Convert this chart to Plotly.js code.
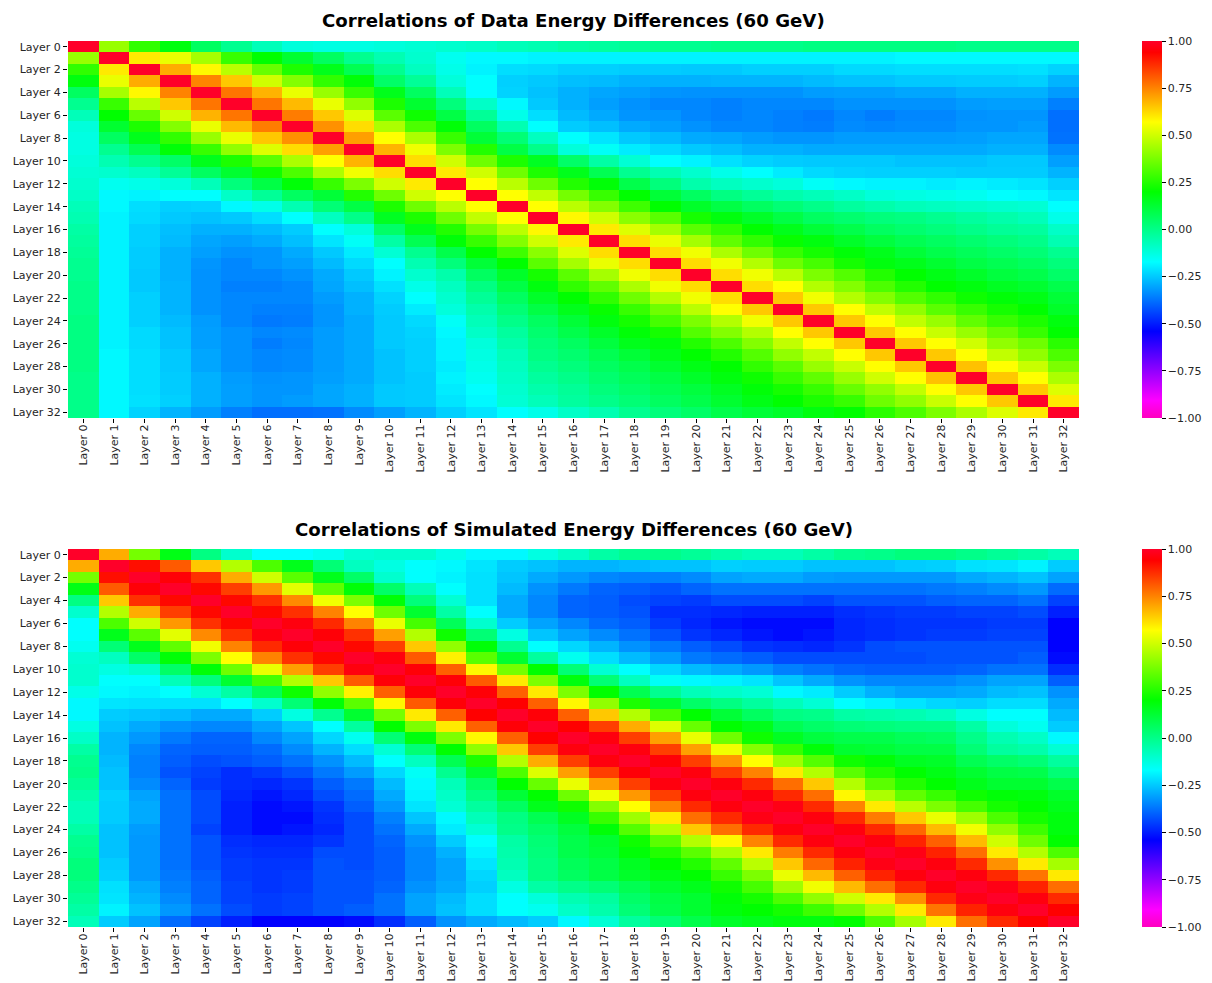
<!DOCTYPE html>
<html>
<head>
<meta charset="utf-8">
<script src="https://cdn.plot.ly/plotly-3.0.1.min.js"></script>
<style>html,body{margin:0;padding:0;background:#fff}#chart{width:1212px;height:983px}</style>
</head>
<body>
<div id="chart"></div>
<script>
const layers = ["Layer 0","Layer 1","Layer 2","Layer 3","Layer 4","Layer 5","Layer 6","Layer 7","Layer 8","Layer 9","Layer 10","Layer 11","Layer 12","Layer 13","Layer 14","Layer 15","Layer 16","Layer 17","Layer 18","Layer 19","Layer 20","Layer 21","Layer 22","Layer 23","Layer 24","Layer 25","Layer 26","Layer 27","Layer 28","Layer 29","Layer 30","Layer 31","Layer 32"];
const yTickLayers = ["Layer 0","Layer 2","Layer 4","Layer 6","Layer 8","Layer 10","Layer 12","Layer 14","Layer 16","Layer 18","Layer 20","Layer 22","Layer 24","Layer 26","Layer 28","Layer 30","Layer 32"];
const colorbarTicks = [-1,-0.75,-0.5,-0.25,0,0.25,0.5,0.75,1];
const titleData = "Correlations of Data Energy Differences (60 GeV)";
const titleSim = "Correlations of Simulated Energy Differences (60 GeV)";

// Upper triangles of the two symmetric correlation matrices: row r lists columns r..32.
const dataUpper = [
[1,.42,.27,.18,.06,-.01,-.07,-.12,-.13,-.13,-.12,-.11,-.1,-.09,-.07,-.06,-.04,-.03,-.02,-.01,-.01,0,0,0,.01,.01,.01,.01,.01,0,0,0,0],
[1,.6,.54,.44,.28,.2,.13,.06,-.01,-.06,-.1,-.15,-.18,-.18,-.19,-.19,-.19,-.19,-.19,-.19,-.19,-.19,-.19,-.19,-.19,-.19,-.18,-.18,-.18,-.18,-.18,-.18],
[1,.69,.58,.47,.35,.24,.16,.08,-.01,-.08,-.14,-.19,-.22,-.225,-.24,-.24,-.245,-.245,-.25,-.25,-.24,-.24,-.24,-.225,-.225,-.22,-.22,-.22,-.22,-.215,-.235],
[1,.75,.65,.5,.39,.27,.19,.05,-.02,-.12,-.17,-.24,-.25,-.265,-.27,-.285,-.285,-.285,-.28,-.28,-.28,-.27,-.26,-.26,-.25,-.25,-.245,-.245,-.24,-.28],
[1,.77,.68,.54,.42,.28,.16,.06,-.07,-.17,-.235,-.26,-.285,-.3,-.31,-.325,-.33,-.33,-.33,-.33,-.315,-.31,-.31,-.3,-.3,-.285,-.285,-.285,-.315],
[1,.77,.67,.54,.41,.24,.13,.02,-.09,-.18,-.25,-.285,-.31,-.33,-.345,-.345,-.355,-.345,-.345,-.345,-.33,-.33,-.33,-.33,-.315,-.31,-.31,-.355],
[1,.76,.65,.52,.33,.22,.1,-.02,-.14,-.22,-.27,-.295,-.325,-.325,-.345,-.355,-.345,-.355,-.365,-.345,-.36,-.345,-.345,-.33,-.325,-.325,-.38],
[1,.73,.62,.45,.31,.19,.06,-.06,-.17,-.245,-.265,-.295,-.31,-.33,-.345,-.345,-.355,-.36,-.34,-.345,-.34,-.34,-.325,-.325,-.315,-.38],
[1,.71,.57,.45,.28,.12,.03,-.08,-.17,-.21,-.25,-.27,-.295,-.3,-.315,-.325,-.325,-.315,-.315,-.315,-.315,-.31,-.3,-.3,-.375],
[1,.68,.55,.38,.25,.1,0,-.12,-.16,-.2,-.225,-.25,-.265,-.285,-.285,-.295,-.295,-.295,-.295,-.295,-.295,-.285,-.285,-.34],
[1,.62,.5,.36,.24,.15,.05,-.04,-.11,-.17,-.19,-.215,-.235,-.245,-.25,-.25,-.25,-.26,-.26,-.26,-.25,-.25,-.31],
[1,.6,.5,.36,.24,.16,.08,-.01,-.06,-.1,-.14,-.17,-.2,-.225,-.235,-.24,-.24,-.24,-.245,-.245,-.245,-.28],
[1,.57,.47,.36,.25,.19,.09,.02,-.05,-.08,-.1,-.12,-.16,-.18,-.19,-.19,-.2,-.19,-.2,-.21,-.24],
[1,.57,.48,.37,.28,.2,.12,.06,.01,-.02,-.05,-.07,-.09,-.12,-.13,-.14,-.15,-.17,-.18,-.21],
[1,.57,.47,.39,.29,.2,.14,.1,.06,.03,0,-.03,-.05,-.07,-.08,-.09,-.1,-.11,-.17],
[1,.58,.5,.4,.33,.23,.18,.14,.1,.06,.04,.02,.01,-.01,-.03,-.05,-.07,-.14],
[1,.6,.52,.44,.33,.27,.2,.16,.12,.09,.06,.04,.02,0,-.02,-.03,-.09],
[1,.62,.54,.44,.34,.27,.21,.18,.14,.11,.08,.06,.04,.02,0,-.06],
[1,.62,.55,.45,.36,.28,.23,.19,.16,.12,.09,.07,.05,.03,-.01],
[1,.62,.55,.46,.36,.3,.23,.18,.16,.13,.1,.08,.06,.02],
[1,.62,.55,.47,.38,.32,.25,.2,.17,.14,.11,.09,.05],
[1,.62,.57,.46,.39,.31,.25,.2,.18,.15,.13,.09],
[1,.65,.55,.46,.39,.32,.27,.22,.19,.17,.12],
[1,.65,.57,.48,.41,.33,.28,.23,.2,.14],
[1,.65,.57,.48,.42,.34,.28,.24,.18],
[1,.65,.57,.49,.42,.35,.28,.2],
[1,.65,.57,.5,.41,.36,.26],
[1,.65,.57,.48,.41,.31],
[1,.66,.57,.49,.38],
[1,.65,.57,.45],
[1,.65,.52],
[1,.6],
[1]
];

const simUpper = [
[1,.69,.37,.17,.01,-.1,-.17,-.17,-.15,-.11,-.1,-.1,-.14,-.18,-.18,-.13,-.09,-.04,-.01,0,-.02,-.05,-.07,-.07,-.04,-.01,0,.02,.02,0,-.02,-.04,-.07],
[1,.92,.81,.65,.46,.31,.16,.03,-.08,-.13,-.17,-.18,-.21,-.245,-.26,-.28,-.28,-.27,-.26,-.26,-.24,-.245,-.245,-.26,-.26,-.26,-.245,-.24,-.215,-.21,-.19,-.245],
[1,.95,.87,.69,.5,.33,.16,.05,-.1,-.17,-.19,-.215,-.255,-.295,-.32,-.345,-.355,-.355,-.34,-.305,-.295,-.295,-.315,-.32,-.32,-.32,-.32,-.295,-.28,-.26,-.305],
[1,.93,.85,.72,.53,.34,.19,.05,-.07,-.17,-.215,-.27,-.33,-.365,-.395,-.405,-.42,-.395,-.375,-.375,-.375,-.375,-.375,-.375,-.375,-.365,-.355,-.34,-.32,-.385],
[1,.93,.87,.74,.55,.38,.19,.02,-.11,-.215,-.295,-.345,-.395,-.405,-.43,-.445,-.455,-.43,-.43,-.43,-.445,-.42,-.42,-.42,-.405,-.395,-.395,-.375,-.445],
[1,.93,.87,.75,.57,.36,.13,-.04,-.17,-.295,-.345,-.395,-.405,-.42,-.475,-.475,-.485,-.495,-.495,-.495,-.475,-.465,-.455,-.455,-.445,-.445,-.43,-.495],
[1,.96,.88,.75,.54,.3,.07,-.1,-.245,-.305,-.345,-.385,-.405,-.455,-.485,-.51,-.525,-.525,-.525,-.485,-.475,-.465,-.465,-.465,-.455,-.455,-.54],
[1,.95,.87,.71,.46,.22,.03,-.13,-.255,-.305,-.34,-.375,-.42,-.465,-.485,-.51,-.525,-.51,-.485,-.475,-.465,-.455,-.455,-.445,-.445,-.54],
[1,.93,.85,.65,.41,.19,-.01,-.17,-.23,-.28,-.33,-.365,-.405,-.43,-.465,-.475,-.485,-.465,-.43,-.42,-.42,-.42,-.42,-.42,-.54],
[1,.96,.81,.59,.33,.13,-.03,-.15,-.22,-.27,-.315,-.365,-.385,-.405,-.43,-.43,-.43,-.43,-.43,-.42,-.42,-.42,-.405,-.525],
[1,.95,.8,.58,.37,.2,.03,-.11,-.17,-.23,-.27,-.295,-.32,-.355,-.375,-.395,-.405,-.405,-.405,-.395,-.375,-.375,-.475],
[1,.95,.81,.6,.38,.18,.03,-.08,-.16,-.18,-.19,-.21,-.255,-.295,-.33,-.345,-.345,-.345,-.33,-.305,-.305,-.405],
[1,.95,.8,.6,.38,.2,.08,-.01,-.07,-.09,-.11,-.18,-.2,-.245,-.285,-.305,-.305,-.295,-.27,-.26,-.33],
[1,.94,.8,.58,.41,.24,.13,.05,.01,-.03,-.07,-.11,-.17,-.19,-.21,-.23,-.24,-.22,-.22,-.295],
[1,.95,.8,.65,.46,.31,.2,.12,.06,.01,0,-.04,-.05,-.06,-.08,-.13,-.17,-.17,-.27],
[1,.94,.85,.69,.52,.35,.2,.16,.08,.05,.03,.02,.01,.01,-.04,-.12,-.15,-.245],
[1,.96,.85,.71,.54,.36,.22,.15,.11,.09,.09,.07,.06,0,-.06,-.09,-.18],
[1,.96,.85,.71,.55,.39,.28,.19,.13,.12,.1,.1,.03,-.03,-.05,-.11],
[1,.95,.85,.72,.57,.43,.32,.22,.19,.15,.14,.08,.05,.03,-.03],
[1,.96,.85,.75,.6,.46,.33,.25,.2,.17,.13,.1,.09,.03],
[1,.96,.88,.78,.65,.46,.33,.25,.2,.16,.13,.13,.09],
[1,.96,.88,.78,.58,.45,.34,.28,.22,.19,.18,.14],
[1,.97,.88,.75,.6,.47,.38,.3,.23,.2,.16],
[1,.96,.88,.76,.65,.54,.43,.31,.23,.18],
[1,.96,.88,.79,.67,.55,.41,.29,.18],
[1,.96,.89,.8,.67,.5,.36,.2],
[1,.97,.89,.78,.6,.46,.31],
[1,.96,.88,.73,.6,.44],
[1,.96,.88,.77,.6],
[1,.97,.89,.78],
[1,.96,.88],
[1,.94],
[1]
];

function mirror(upper) {
  return layers.map((_, i) => layers.map((_, j) => {
    const a = Math.min(i, j), b = Math.max(i, j);
    return upper[a][b - a];
  }));
}

const W = 1212, H = 983;
const px = { left: 68, right: 1079, top1: 41, bot1: 418, top2: 549, bot2: 927, cbLeft: 1142, cbThick: 20 };
const fontFam = '"DejaVu Sans", sans-serif';
const gistRainbowR = [
  [0, 'rgb(255,0,191)'], [0.046, 'rgb(255,0,255)'], [0.23, 'rgb(0,0,255)'], [0.414, 'rgb(0,255,255)'],
  [0.6, 'rgb(0,255,0)'], [0.785, 'rgb(255,255,0)'], [0.97, 'rgb(255,0,0)'], [1, 'rgb(255,0,41)']
];

function hm(upper, xa, ya, top, bot) {
  return {
    type: 'heatmap', x: layers, y: layers, z: mirror(upper), xaxis: xa, yaxis: ya,
    zmin: -1, zmax: 1, colorscale: gistRainbowR, xgap: 0, ygap: 0,
    colorbar: {
      x: px.cbLeft / W, xanchor: 'left', xpad: 0, ypad: 0,
      y: 1 - top / H, yanchor: 'top', len: (bot - top) / H, lenmode: 'fraction',
      thickness: px.cbThick, thicknessmode: 'pixels', outlinewidth: 0,
      tickmode: 'array', tickvals: colorbarTicks, tickformat: '.2f',
      ticks: 'outside', ticklen: 4, tickwidth: 1, tickcolor: '#000',
      tickfont: { family: fontFam, size: 11, color: '#262626' }
    }
  };
}

const xax = (anchor) => ({
  domain: [px.left / W, px.right / W], anchor, type: 'category', categoryorder: 'array', categoryarray: layers,
  tickmode: 'array', tickvals: layers, ticktext: layers, tickangle: -90, ticklabelstandoff: -3,
  ticks: 'outside', ticklen: 4, tickwidth: 1, tickcolor: '#000',
  tickfont: { family: fontFam, size: 11, color: '#262626' },
  showgrid: false, zeroline: false, showline: false
});
const yax = (anchor, top, bot) => ({
  domain: [1 - bot / H, 1 - top / H], anchor, type: 'category', categoryorder: 'array', categoryarray: layers,
  autorange: 'reversed', tickmode: 'array', tickvals: yTickLayers, ticktext: yTickLayers,
  ticks: 'outside', ticklen: 4, tickwidth: 1, tickcolor: '#000',
  tickfont: { family: fontFam, size: 11, color: '#262626' },
  showgrid: false, zeroline: false, showline: false
});
const titleAnn = (text, y) => ({
  text: '<b>' + text + '</b>', xref: 'paper', yref: 'paper', x: (px.left + px.right) / 2 / W, y: 1 - y / H,
  xanchor: 'center', yanchor: 'middle', showarrow: false,
  font: { family: fontFam, size: 18.15, color: '#000' }
});

Plotly.newPlot('chart', [
  hm(dataUpper, 'x', 'y', px.top1, px.bot1),
  hm(simUpper, 'x2', 'y2', px.top2, px.bot2)
], {
  width: W, height: H, margin: { l: 0, r: 0, t: 0, b: 0 },
  paper_bgcolor: '#fff', plot_bgcolor: '#fff', showlegend: false,
  xaxis: xax('y'), yaxis: yax('x', px.top1, px.bot1),
  xaxis2: xax('y2'), yaxis2: yax('x2', px.top2, px.bot2),
  annotations: [titleAnn(titleData, 21), titleAnn(titleSim, 529)]
}, { displayModeBar: false, staticPlot: true });
</script>
</body>
</html>
